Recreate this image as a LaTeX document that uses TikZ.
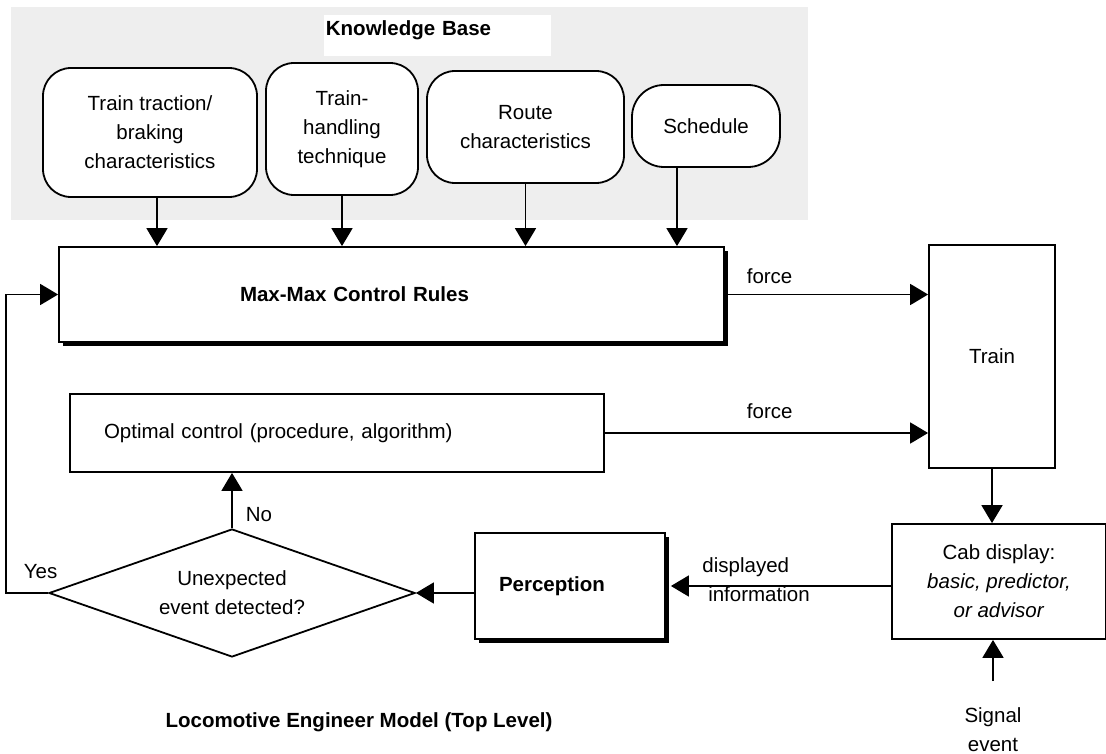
\documentclass[tikz,border=0pt]{standalone}
\usepackage{fontspec}
\setmainfont{Liberation Sans}
\usetikzlibrary{arrows.meta,shapes.geometric,shadows}
\definecolor{kbgray}{RGB}{238,238,238}
\newcommand{\lemfont}{\fontsize{20.5pt}{29pt}\selectfont}

\begin{document}
\begin{tikzpicture}[x=1pt, y=-1pt, line width=1.8pt,
  every node/.style={font=\lemfont, inner sep=3pt},
  source/.style={draw, fill=white, rounded corners=28pt, align=center, inner sep=0pt},
  block/.style={draw, fill=white, inner sep=0pt, align=center},
  shadowed/.style={drop shadow={shadow xshift=4pt, shadow yshift=-4pt, fill=black, opacity=1}},
  decision/.style={draw, fill=white, diamond, aspect=2.86, inner sep=0pt, align=center},
  arr/.style={-{Triangle[length=18pt,width=21pt]}}]
  \useasboundingbox (0,0) rectangle (1106,754);

  % knowledge base
  \fill[kbgray] (11,7) rectangle (808,220);
  \node[fill=white, anchor=north west, inner xsep=2pt, inner ysep=6pt, text width=223pt,
        text height=15pt, text depth=14pt, align=left, font=\lemfont\bfseries] (kbtitle) at (323,14) {Knowledge Base};
  \node[source, minimum width=214pt, minimum height=129pt] (kb1) at (150,132.5) {Train traction/\\braking\\characteristics};
  \node[source, minimum width=152pt, minimum height=132pt] (kb2) at (342,129) {Train-\\handling\\technique};
  \node[source, minimum width=197pt, minimum height=112pt] (kb3) at (525.5,127) {Route\\characteristics};
  \node[source, rounded corners=32pt, minimum width=148pt, minimum height=82pt] (kb4) at (706,126) {Schedule};

  % control and train
  \node[block, shadowed, minimum width=665pt, minimum height=95pt, inner xsep=181pt, text width=303pt,
        align=left, font=\lemfont\bfseries] (mm) at (391.5,294.5) {Max-Max Control Rules};
  \node[block, minimum width=534pt, minimum height=78pt, inner xsep=34pt, text width=466pt,
        align=left] (opt) at (337,433) {Optimal control (procedure, algorithm)};
  \node[block, minimum width=126pt, minimum height=223pt] (train) at (992,356.5) {Train};
  \node[block, minimum width=214pt, minimum height=115pt] (cab) at (999,581.5) {Cab display:\\\textit{basic, predictor,}\\\textit{or advisor}};
  \node[block, shadowed, minimum width=190pt, minimum height=106pt, inner xsep=24pt, text width=142pt,
        align=left, font=\lemfont\bfseries] (perc) at (570,586) {Perception};
  \node[decision, minimum width=366pt, minimum height=128pt] (dec) at (232,593) {Unexpected\\event detected?};
  \node[align=center] (sig) at (993,730) {Signal\\event};
  \node[font=\lemfont\bfseries] (caption) at (359,722) {Locomotive Engineer Model (Top Level)};

  \foreach \src/\dx in {kb1/7,kb2/0,kb3/0,kb4/-29} { % each source feeds the rules
    \draw[arr] ([xshift=\dx pt]\src.south) -- ([xshift=\dx pt]\src.south |- mm.north);
  }
  \draw[arr] (mm.east) -- (mm.east -| train.west) node[above=7pt, pos=0.22] {force};
  \draw[arr] (opt.east) -- (opt.east -| train.west) node[above=10pt, pos=0.51] {force};
  \draw[arr] (train.south) -- (train.south |- cab.north);
  \draw[arr] ([yshift=23pt]sig.north) -- (sig.north |- cab.south);
  \draw[arr] (perc.east -| cab.west) -- ([xshift=5pt]perc.east)
    node[above=5pt, pos=0.66] {displayed}
    node[below, inner sep=0pt, pos=0.6] {information};
  \draw[arr] (dec.east -| perc.west) -- (dec.east);
  \draw[arr] (dec.north) -- (dec.north |- opt.south) node[right=10pt, pos=0.25] {No};
  \draw[arr] (dec.west) -- ++(-42,0) node[above=10pt, pos=0.18] {Yes} |- (mm.west);
\end{tikzpicture}
\end{document}
